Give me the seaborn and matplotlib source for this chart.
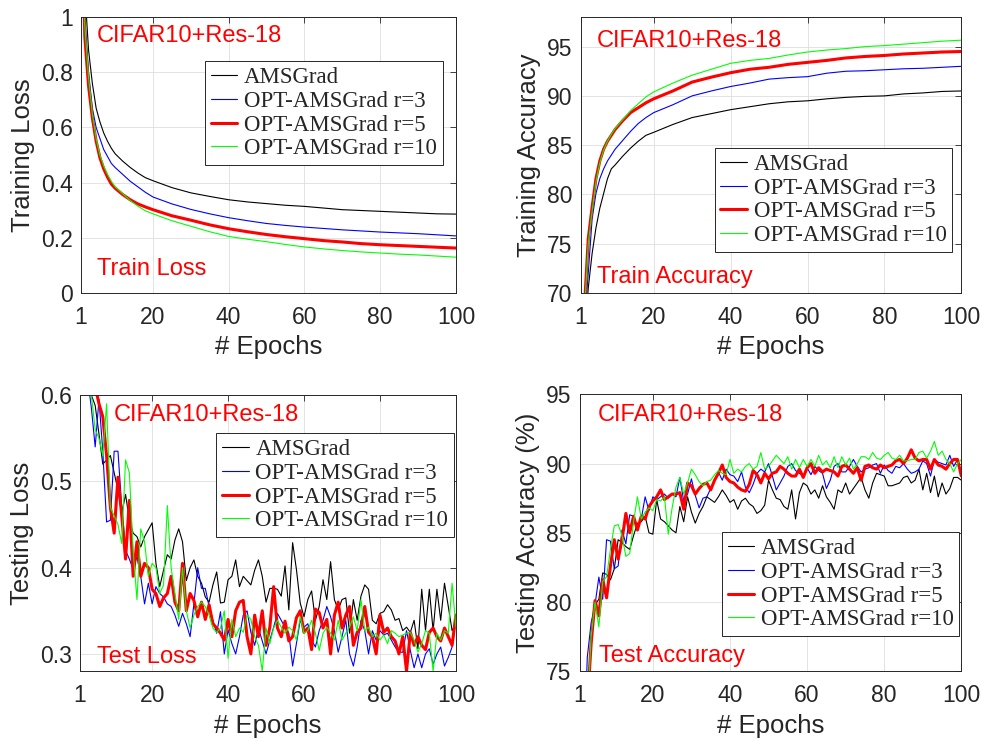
import matplotlib
matplotlib.use('Agg')
import matplotlib.pyplot as plt
import seaborn as sns

methods = ['AMSGrad', 'OPT-AMSGrad r=3', 'OPT-AMSGrad r=5', 'OPT-AMSGrad r=10']
colors = ['black', 'blue', 'red', 'lime']
widths = [0.8, 0.8, 2.2, 0.8]

# ---- training curves (read at selected epochs) ----
train_epochs = [1, 2, 3, 4, 5, 6, 7, 8, 9, 10, 12, 14, 16, 18, 20, 25, 30, 35, 40, 45,
                50, 55, 60, 65, 70, 75, 80, 85, 90, 95, 100]

train_loss_ams = [1.9, 1.1, 0.88, 0.76, 0.67, 0.62, 0.58, 0.55, 0.525, 0.505, 0.478, 0.455, 0.435, 0.418, 0.407,
                  0.382, 0.363, 0.35, 0.338, 0.33, 0.324, 0.318, 0.314, 0.308, 0.302, 0.299, 0.296, 0.293, 0.29, 0.287, 0.286]
train_loss_r3 = [1.8, 1.0, 0.8, 0.67, 0.6, 0.56, 0.52, 0.495, 0.47, 0.455, 0.43, 0.405, 0.385, 0.365, 0.348,
                 0.323, 0.303, 0.287, 0.273, 0.262, 0.252, 0.245, 0.239, 0.234, 0.229, 0.225, 0.221, 0.218, 0.215, 0.211, 0.207]
train_loss_r5 = [1.6, 0.93, 0.75, 0.635, 0.55, 0.49, 0.45, 0.42, 0.395, 0.38, 0.357, 0.338, 0.323, 0.312, 0.302,
                 0.28, 0.264, 0.247, 0.233, 0.222, 0.212, 0.204, 0.197, 0.19, 0.185, 0.179, 0.175, 0.172, 0.169, 0.166, 0.163]
train_loss_r10 = [1.7, 0.97, 0.78, 0.65, 0.56, 0.5, 0.46, 0.43, 0.405, 0.385, 0.36, 0.335, 0.315, 0.298, 0.287,
                  0.262, 0.242, 0.222, 0.205, 0.195, 0.186, 0.176, 0.167, 0.16, 0.154, 0.149, 0.145, 0.141, 0.138, 0.134, 0.13]

train_acc_ams = [55, 65, 70.5, 74, 76.6, 78.6, 80.1, 81.6, 82.6, 83.0, 83.9, 84.7, 85.4, 86.0, 86.3,
                 87.1, 87.8, 88.2, 88.6, 88.9, 89.2, 89.4, 89.5, 89.7, 89.85, 89.95, 90.0, 90.2, 90.3, 90.45, 90.5]
train_acc_r3 = [57, 67, 72, 77.5, 80.1, 81.6, 82.6, 83.4, 84.0, 84.6, 85.5, 86.4, 87.2, 87.8, 88.3,
                89.1, 90.0, 90.5, 90.95, 91.3, 91.7, 91.85, 91.95, 92.3, 92.5, 92.55, 92.65, 92.75, 92.8, 92.9, 93.0]
train_acc_r5 = [58, 68.5, 75.5, 78.7, 81.6, 83.4, 84.6, 85.4, 86.0, 86.6, 87.5, 88.3, 88.8, 89.3, 89.7,
                90.5, 91.4, 91.9, 92.35, 92.7, 92.9, 93.2, 93.4, 93.6, 93.85, 94.0, 94.1, 94.25, 94.35, 94.45, 94.5]
train_acc_r10 = [58, 68, 75, 78.3, 81.3, 83.2, 84.5, 85.4, 86.1, 86.7, 87.6, 88.5, 89.2, 89.9, 90.4,
                 91.3, 92.1, 92.7, 93.3, 93.6, 93.8, 94.15, 94.45, 94.65, 94.8, 95.0, 95.1, 95.25, 95.4, 95.55, 95.65]

# ---- test curves (every epoch) ----
test_epochs = list(range(1, 101))

test_loss_ams = [0.95, 0.75, 0.64, 0.60, 0.588, 0.555, 0.52, 0.525, 0.53, 0.51,
                 0.49, 0.463, 0.485, 0.455, 0.44, 0.436, 0.424, 0.436, 0.444, 0.452,
                 0.405, 0.378, 0.397, 0.415, 0.41, 0.432, 0.445, 0.43, 0.385, 0.40,
                 0.409, 0.39, 0.382, 0.366, 0.36, 0.38, 0.395, 0.359, 0.36, 0.386,
                 0.39, 0.409, 0.378, 0.39, 0.385, 0.38, 0.397, 0.409, 0.39, 0.36,
                 0.376, 0.376, 0.375, 0.367, 0.402, 0.351, 0.429, 0.398, 0.359, 0.343,
                 0.363, 0.373, 0.339, 0.355, 0.386, 0.363, 0.407, 0.363, 0.351, 0.363,
                 0.365, 0.324, 0.363, 0.339, 0.367, 0.38, 0.375, 0.339, 0.335, 0.347,
                 0.349, 0.357, 0.351, 0.339, 0.341, 0.327, 0.331, 0.325, 0.339, 0.306,
                 0.375, 0.327, 0.375, 0.327, 0.375, 0.339, 0.382, 0.355, 0.327, 0.335]
test_loss_r3 = [0.90, 0.72, 0.62, 0.585, 0.54, 0.595, 0.535, 0.453, 0.455, 0.535,
                0.535, 0.47, 0.42, 0.41, 0.398, 0.413, 0.39, 0.358, 0.382, 0.358,
                0.378, 0.37, 0.366, 0.358, 0.355, 0.345, 0.332, 0.347, 0.335, 0.32,
                0.358, 0.40, 0.376, 0.376, 0.355, 0.339, 0.324, 0.349, 0.30, 0.328,
                0.312, 0.30, 0.32, 0.345, 0.35, 0.325, 0.31, 0.33, 0.315, 0.30,
                0.316, 0.331, 0.347, 0.339, 0.331, 0.324, 0.286, 0.312, 0.339, 0.331,
                0.335, 0.316, 0.308, 0.327, 0.339, 0.355, 0.343, 0.327, 0.302, 0.32,
                0.339, 0.30, 0.286, 0.308, 0.339, 0.327, 0.30, 0.327, 0.316, 0.327,
                0.322, 0.324, 0.316, 0.308, 0.302, 0.302, 0.327, 0.304, 0.284, 0.30,
                0.284, 0.30, 0.306, 0.288, 0.30, 0.308, 0.286, 0.296, 0.308, 0.339]
test_loss_r5 = [0.95, 0.80, 0.70, 0.63, 0.61, 0.59, 0.575, 0.53, 0.47, 0.44,
                0.505, 0.46, 0.41, 0.478, 0.39, 0.43, 0.39, 0.405, 0.40, 0.375,
                0.37, 0.355, 0.365, 0.37, 0.39, 0.36, 0.35, 0.405, 0.35, 0.37,
                0.362, 0.343, 0.36, 0.34, 0.357, 0.335, 0.33, 0.324, 0.316, 0.34,
                0.32, 0.35, 0.36, 0.362, 0.32, 0.30, 0.345, 0.32, 0.35, 0.31,
                0.331, 0.378, 0.33, 0.32, 0.338, 0.315, 0.32, 0.342, 0.35, 0.325,
                0.33, 0.305, 0.352, 0.348, 0.33, 0.34, 0.30, 0.345, 0.36, 0.33,
                0.345, 0.355, 0.31, 0.325, 0.33, 0.355, 0.325, 0.32, 0.30, 0.345,
                0.325, 0.33, 0.32, 0.315, 0.30, 0.32, 0.28, 0.325, 0.31, 0.32,
                0.31, 0.305, 0.325, 0.33, 0.32, 0.315, 0.33, 0.32, 0.31, 0.345]
test_loss_r10 = [1.0, 0.80, 0.66, 0.60, 0.56, 0.55, 0.53, 0.59, 0.47, 0.46,
                 0.45, 0.428, 0.525, 0.51, 0.42, 0.363, 0.445, 0.43, 0.39, 0.405,
                 0.40, 0.37, 0.38, 0.472, 0.40, 0.37, 0.34, 0.40, 0.35, 0.33,
                 0.345, 0.355, 0.36, 0.355, 0.345, 0.33, 0.325, 0.33, 0.35, 0.295,
                 0.34, 0.32, 0.33, 0.325, 0.345, 0.34, 0.32, 0.31, 0.28, 0.33,
                 0.312, 0.33, 0.339, 0.331, 0.324, 0.331, 0.327, 0.316, 0.343, 0.324,
                 0.327, 0.339, 0.324, 0.304, 0.324, 0.331, 0.324, 0.316, 0.339, 0.316,
                 0.324, 0.331, 0.343, 0.327, 0.363, 0.327, 0.331, 0.32, 0.324, 0.316,
                 0.322, 0.312, 0.327, 0.324, 0.32, 0.322, 0.324, 0.325, 0.316, 0.302,
                 0.312, 0.327, 0.324, 0.28, 0.324, 0.316, 0.327, 0.324, 0.382, 0.331]

test_acc_ams = [60, 67, 72, 77.5, 79.8, 80.2, 82.1, 82.0, 81.6, 82.4,
                84.5, 84.3, 84.0, 83.8, 84.8, 85.7, 85.8, 86.2, 85.0, 84.9,
                87.4, 86.0, 85.8, 85.5, 85.2, 85.0, 86.9, 85.8, 87.6, 86.5,
                85.7, 86.4, 86.9, 87.6, 87.4, 87.2, 87.6, 88.1, 87.7, 87.2,
                87.4, 86.7, 87.3, 87.5, 87.1, 86.9, 86.4, 86.6, 87.0, 88.8,
                88.1, 87.5, 87.4, 86.9, 86.7, 88.1, 86.0, 87.9, 88.6, 88.4,
                87.8, 88.1, 87.5, 88.4, 87.6, 87.2, 86.7, 88.1, 87.9, 88.6,
                87.8, 88.2, 88.6, 89.0, 88.1, 87.5, 88.6, 89.3, 89.2, 89.1,
                88.4, 88.4, 88.5, 88.6, 89.0, 89.1, 88.6, 88.8, 89.6, 88.1,
                89.3, 87.9, 89.1, 87.6, 88.6, 87.8, 88.2, 89.0, 89.0, 88.8]
test_acc_r3 = [55, 68, 76, 78.5, 79.8, 81.8, 80.2, 84.5, 84.4, 82.4,
               82.6, 85.2, 84.2, 86.3, 86.2, 85.3, 86.0, 87.6, 86.6, 87.6,
               87.4, 87.6, 87.8, 87.5, 87.8, 87.6, 89.0, 87.3, 87.8, 88.9,
               87.7, 86.8, 87.5, 87.6, 88.2, 88.7, 89.4, 88.8, 89.6, 89.2,
               89.1, 88.7, 89.4, 88.3, 87.9, 88.5, 89.3, 89.6, 89.4, 90.0,
               89.1, 88.1, 88.6, 89.1, 89.8, 90.0, 89.5, 89.3, 89.1, 89.7,
               89.2, 89.8, 89.5, 89.3, 88.2, 88.8, 89.8, 90.0, 89.4, 89.4,
               89.8, 90.3, 89.8, 89.4, 89.6, 89.7, 89.9, 90.0, 89.3, 89.9,
               89.5, 89.3, 89.8, 89.7, 90.0, 89.6, 89.3, 89.4, 89.6, 90.2,
               90.0, 89.1, 90.3, 90.1, 90.0, 89.9, 90.6, 89.8, 90.3, 89.2]
test_acc_r5 = [58, 66, 72.5, 77, 80.1, 79.0, 81.6, 80.3, 82.6, 84.5,
               83.1, 84.5, 86.4, 85.0, 86.2, 85.2, 86.2, 86.0, 86.9, 87.3,
               87.6, 88.1, 87.4, 87.6, 87.8, 87.8, 87.9, 86.7, 88.6, 88.4,
               87.8, 88.2, 88.5, 88.6, 88.1, 88.8, 89.3, 89.9, 89.0, 88.7,
               88.6, 88.3, 88.1, 88.0, 88.5, 89.5, 89.2, 88.6, 89.3, 88.9,
               89.3, 89.4, 89.8, 89.6, 89.3, 89.1, 89.1, 89.6, 89.0, 89.7,
               90.0, 89.3, 89.7, 89.4, 89.6, 89.5, 89.4, 89.1, 89.8, 89.9,
               89.6, 89.3, 89.7, 88.8, 89.8, 89.9, 89.7, 89.6, 89.9, 89.7,
               89.8, 89.9, 90.2, 90.3, 90.0, 90.4, 91.0, 90.4, 90.2, 90.3,
               90.3, 89.6, 90.3, 89.9, 89.8, 89.6, 90.0, 90.3, 90.3, 89.1]
test_acc_r10 = [57, 66, 72, 77.5, 80.0, 78.2, 81.5, 81.8, 83.8, 85.5,
                85.6, 84.8, 83.3, 83.5, 85.8, 87.6, 86.0, 86.5, 86.8, 86.6,
                87.4, 87.3, 87.6, 84.9, 86.8, 88.3, 89.0, 87.8, 88.6, 89.6,
                89.2, 88.7, 88.4, 88.7, 88.8, 89.2, 89.5, 89.3, 89.2, 90.3,
                89.3, 89.6, 89.4, 89.8, 90.0, 89.6, 89.8, 90.8, 89.6, 89.8,
                90.2, 90.6, 90.3, 90.0, 90.5, 89.6, 90.3, 89.7, 90.3, 89.8,
                90.3, 89.8, 90.6, 89.9, 90.2, 89.7, 90.5, 89.7, 90.5, 89.9,
                90.4, 89.6, 90.0, 90.5, 90.5, 90.3, 90.8, 90.4, 90.3, 90.6,
                90.8, 90.4, 90.3, 90.6, 90.2, 90.2, 90.3, 90.3, 90.8, 90.9,
                90.4, 90.9, 91.6, 90.6, 90.9, 90.3, 90.0, 89.4, 90.0, 90.3]

sns.set_style('whitegrid')
plt.rcParams['font.family'] = ['Liberation Sans', 'DejaVu Sans']
plt.rcParams['axes.edgecolor'] = '#262626'

fig = plt.figure(figsize=(9.84, 7.4), dpi=100)


def panel(rect, epochs, series, ylim, yticks, yticklabels, ylabel, tag, tag_x, tag_y, anchor):
    ax = fig.add_axes(rect)
    for name, vals, c, w in zip(methods, series, colors, widths):
        sns.lineplot(x=epochs, y=vals, ax=ax, color=c, lw=w, label=name)
    ax.set_xlim(1, 100)
    ax.set_ylim(*ylim)
    ax.set_xticks([1, 20, 40, 60, 80, 100])
    ax.set_yticks(yticks)
    ax.set_yticklabels(yticklabels)
    ax.grid(True, color='#dedede', lw=0.6)
    ax.tick_params(direction='in', length=4, width=0.6, top=True, right=True,
                   labelsize=16.5, colors='#262626')
    ax.tick_params(axis='x', pad=9)
    ax.tick_params(axis='y', pad=6)
    for s in ax.spines.values():
        s.set_color('#262626')
        s.set_linewidth(0.7)
    ax.set_xlabel('# Epochs', fontsize=18.5, color='#262626', labelpad=5)
    ax.set_ylabel(ylabel, fontsize=18.5, color='#262626', labelpad=4)
    # red annotations inside the axes
    ax.text(tag_x[0], tag_y[0], 'CIFAR10+Res-18', transform=ax.transAxes, color='red',
            fontsize=17, va='baseline', ha='left')
    ax.text(tag_x[1], tag_y[1], tag, transform=ax.transAxes, color='red',
            fontsize=17, va='baseline', ha='left')
    leg = ax.legend(loc='upper right', bbox_to_anchor=anchor, fancybox=False, framealpha=1,
                    edgecolor='#262626', prop={'family': 'Liberation Serif', 'size': 16.5},
                    handlelength=1.15, handletextpad=0.3, labelspacing=0.12, borderpad=0.25,
                    borderaxespad=0)
    leg.get_frame().set_linewidth(0.7)
    return ax


panel([0.0823, 0.604, 0.381, 0.373], train_epochs,
      [train_loss_ams, train_loss_r3, train_loss_r5, train_loss_r10],
      (0, 1), [0, 0.2, 0.4, 0.6, 0.8, 1], ['0', '0.2', '0.4', '0.6', '0.8', '1'],
      'Training Loss', 'Train Loss', (0.043, 0.043), (0.91, 0.065), (0.965, 0.84))

panel([0.590, 0.604, 0.387, 0.373], train_epochs,
      [train_acc_ams, train_acc_r3, train_acc_r5, train_acc_r10],
      (70, 98), [70, 75, 80, 85, 90, 95], ['70', '75', '80', '85', '90', '95'],
      'Training Accuracy', 'Train Accuracy', (0.042, 0.042), (0.892, 0.037), (0.976, 0.525))

panel([0.0813, 0.093, 0.382, 0.373], test_epochs,
      [test_loss_ams, test_loss_r3, test_loss_r5, test_loss_r10],
      (0.28, 0.6), [0.3, 0.4, 0.5, 0.6], ['0.3', '0.4', '0.5', '0.6'],
      'Testing Loss', 'Test Loss', (0.09, 0.044), (0.907, 0.03), (0.995, 0.862))

panel([0.589, 0.093, 0.388, 0.374], test_epochs,
      [test_acc_ams, test_acc_r3, test_acc_r5, test_acc_r10],
      (75, 95), [75, 80, 85, 90, 95], ['75', '80', '85', '90', '95'],
      'Testing Accuracy (%)', 'Test Accuracy', (0.048, 0.052), (0.904, 0.034), (0.995, 0.502))

fig.savefig('out.png', dpi=100)
